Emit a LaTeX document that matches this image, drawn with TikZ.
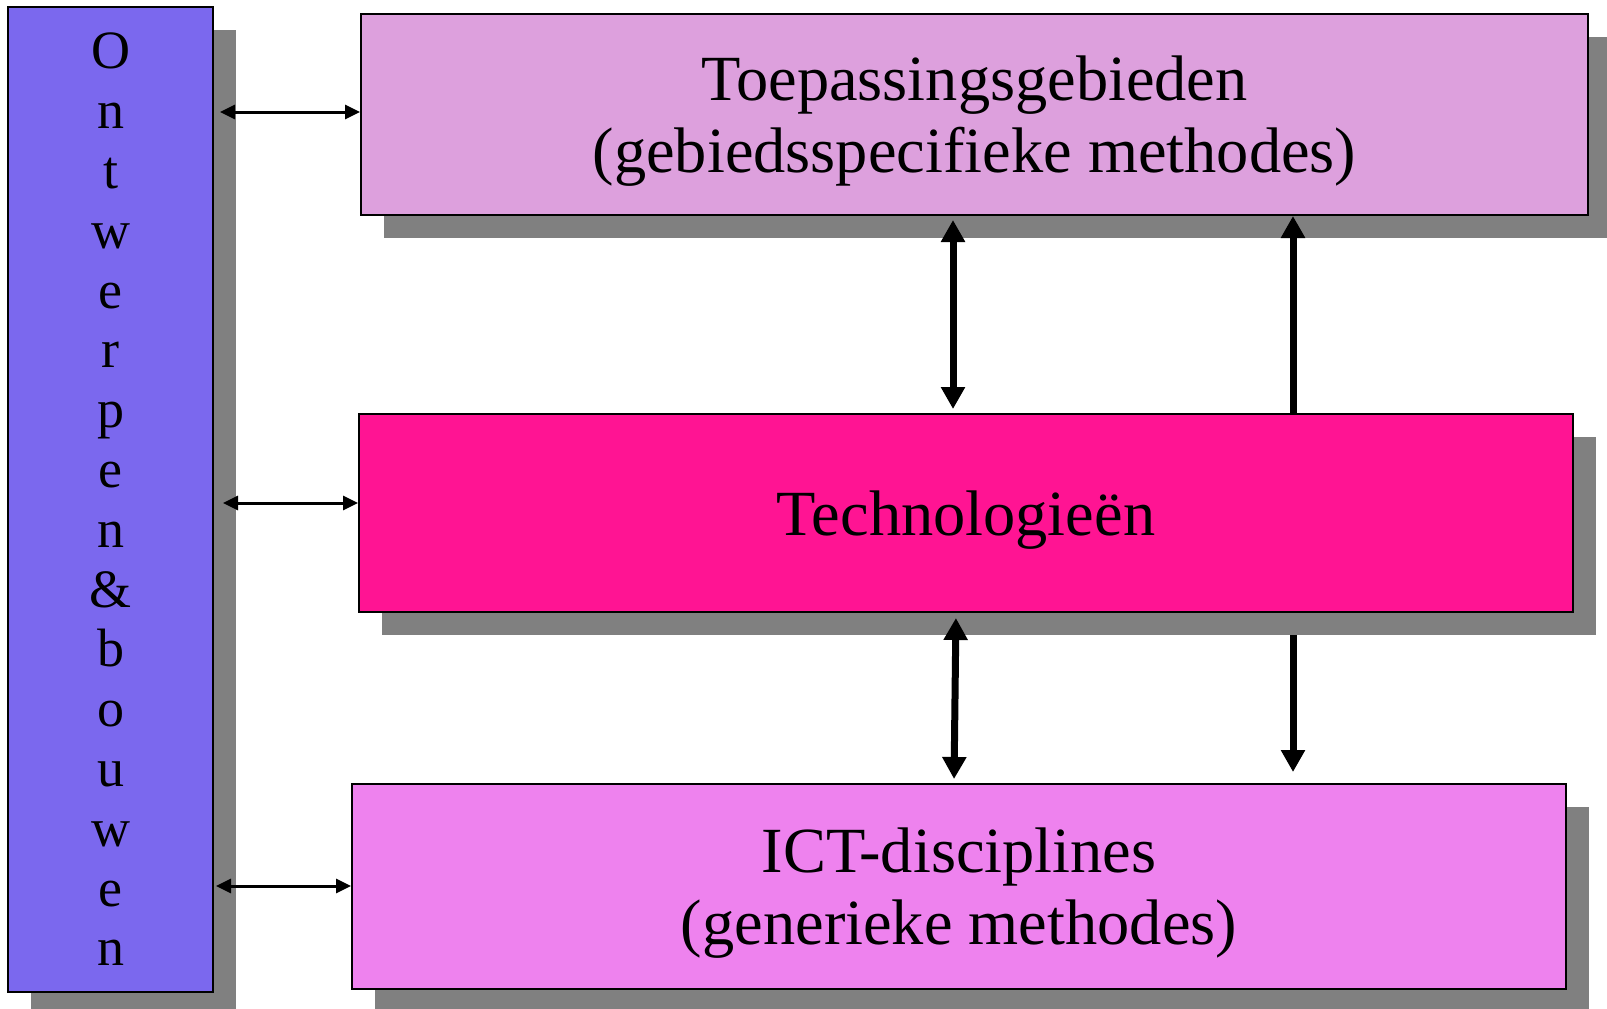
\documentclass[tikz,border=0pt]{standalone}
\usepackage{fontspec}
\setmainfont{Liberation Serif}
\usetikzlibrary{arrows.meta,shadows}

\definecolor{ontwblauw}{HTML}{7B68EE}
\definecolor{toeppruim}{HTML}{DDA0DD}
\definecolor{techroze}{HTML}{FF1493}
\definecolor{ictviolet}{HTML}{EE82EE}
\newcommand{\eerstelijn}{\rule{0pt}{29pt}}

\begin{document}
\begin{tikzpicture}[x=0.5pt,y=-0.5pt,
    blok/.style={draw=black, line width=1pt, inner sep=0pt, align=center,
      font=\fontsize{32.2}{36}\selectfont,
      drop shadow={shadow xshift=11.5pt, shadow yshift=-11.5pt, fill=black!50, opacity=1}},
    dun/.style={line width=1.5pt, {Triangle[length=7.5pt,width=7pt]}-{Triangle[length=7.5pt,width=7pt]}},
    dik/.style={line width=3.5pt, -{Triangle[length=11pt,width=11.5pt]}},
    dikdubbel/.style={dik, {Triangle[length=11pt,width=11.5pt]}-{Triangle[length=11pt,width=11.5pt]}}]
    \useasboundingbox (0,0) rectangle (1607,1008);

    % de blokken
    \node[blok, fill=ontwblauw, minimum width=102.5pt, minimum height=492.5pt,
          font=\fontsize{27}{29.9}\selectfont] (ontw) at (110.5,499.5)
          {O\\n\\t\\w\\e\\r\\p\\e\\n\\\&\\b\\o\\u\\w\\e\\n};
    \node[blok, fill=toeppruim, minimum width=613.5pt, minimum height=100.5pt] (toep) at (974.5,114.5)
          {\eerstelijn Toepassingsgebieden\\(gebiedsspecifieke methodes)};
    \node[blok, fill=techroze, minimum width=607pt, minimum height=99pt] (tech) at (966,513)
          {\eerstelijn Technologieën};
    \node[blok, fill=ictviolet, minimum width=607pt, minimum height=102.5pt] (ict) at (959,886.5)
          {\eerstelijn ICT-disciplines\\(generieke methodes)};

    % links: ontwerpen & bouwen
    \draw[dun] (ontw.east |- 0,112) ++(6,0) -- (toep.west |- 0,112);
    \draw[dun] (ontw.east |- 0,503) ++(9,0) -- (tech.west |- 0,503);
    \draw[dun] (ontw.east |- 0,886) ++(2,0) -- (ict.west |- 0,886);

    % verticaal
    \draw[dikdubbel, shorten <=2pt, shorten >=2pt] (toep.south -| 953,0) -- (tech.north -| 953,0);
    \draw[dik] (tech.north -| 1293,0) -- (toep.south -| 1293,0);
    \draw[dikdubbel, shorten <=2.5pt, shorten >=2pt] (tech.south -| 956,0) -- (ict.north -| 954,0);
    \draw[dik, shorten <=11pt, shorten >=5.5pt] (tech.south -| 1293,0) -- (ict.north -| 1293,0);
\end{tikzpicture}
\end{document}
